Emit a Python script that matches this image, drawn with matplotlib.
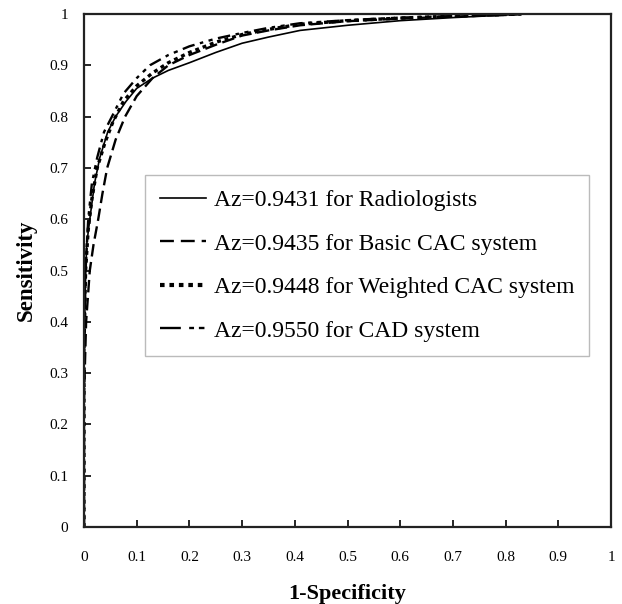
import matplotlib
matplotlib.use("Agg")
import matplotlib.pyplot as plt
from matplotlib.lines import Line2D

plt.rcParams['font.family'] = ['Liberation Serif', 'DejaVu Serif']
plt.rcParams['lines.scale_dashes'] = False

# ROC operating points (1-specificity, sensitivity)
fpr_rad = [0.0, 0.0, 0.002, 0.005, 0.011, 0.02, 0.03, 0.045, 0.06, 0.08, 0.10, 0.13, 0.16,
           0.20, 0.25, 0.30, 0.35, 0.41, 0.50, 0.60, 0.70, 0.80, 0.83]
tpr_rad = [0.0, 0.30, 0.45, 0.55, 0.60, 0.67, 0.72, 0.77, 0.80, 0.83, 0.855, 0.875, 0.89,
           0.905, 0.925, 0.943, 0.955, 0.968, 0.978, 0.987, 0.993, 0.998, 1.0]

fpr_basic = [0.0, 0.0, 0.004, 0.011, 0.018, 0.027, 0.035, 0.044, 0.06, 0.078, 0.10, 0.13, 0.16,
             0.20, 0.25, 0.30, 0.35, 0.41, 0.50, 0.60, 0.70, 0.80, 0.83]
tpr_basic = [0.0, 0.25, 0.40, 0.50, 0.55, 0.60, 0.65, 0.70, 0.755, 0.80, 0.84, 0.875, 0.90,
             0.92, 0.94, 0.958, 0.968, 0.978, 0.986, 0.991, 0.995, 0.998, 1.0]

fpr_wcac = [0.0, 0.0, 0.003, 0.008, 0.015, 0.025, 0.04, 0.055, 0.075, 0.10, 0.13, 0.16,
            0.20, 0.25, 0.30, 0.35, 0.41, 0.50, 0.60, 0.70, 0.80, 0.83]
tpr_wcac = [0.0, 0.35, 0.50, 0.58, 0.64, 0.70, 0.75, 0.79, 0.83, 0.86, 0.885, 0.905,
            0.925, 0.945, 0.960, 0.970, 0.980, 0.987, 0.992, 0.996, 0.999, 1.0]

fpr_cad = [0.0, 0.0, 0.003, 0.008, 0.015, 0.025, 0.038, 0.053, 0.075, 0.10, 0.125, 0.16,
           0.20, 0.25, 0.30, 0.35, 0.41, 0.50, 0.60, 0.70, 0.80, 0.83]
tpr_cad = [0.0, 0.30, 0.50, 0.60, 0.67, 0.72, 0.77, 0.80, 0.845, 0.875, 0.90, 0.92,
           0.937, 0.952, 0.963, 0.973, 0.982, 0.988, 0.993, 0.996, 0.999, 1.0]

labels = ["Az=0.9431 for Radiologists",
          "Az=0.9435 for Basic CAC system",
          "Az=0.9448 for Weighted CAC system",
          "Az=0.9550 for CAD system"]

W, H = 622, 604
fig = plt.figure(figsize=(W / 100, H / 100), dpi=100)
ax = fig.add_axes([84 / W, 1 - 527 / H, 527 / W, 513 / H])

ax.plot(fpr_rad, tpr_rad, color='black', lw=1.2, solid_joinstyle='round')
ax.plot(fpr_basic, tpr_basic, color='black', lw=1.7, linestyle=(0, (9, 4)))
ax.plot(fpr_wcac, tpr_wcac, color='black', lw=2.4, linestyle=(0, (2.8, 2.8)))
ax.plot(fpr_cad, tpr_cad, color='black', lw=1.7, linestyle=(0, (9, 4, 2.5, 4, 3, 4)))

ax.set_xlim(0, 1)
ax.set_ylim(0, 1)
ticks = [0, 0.1, 0.2, 0.3, 0.4, 0.5, 0.6, 0.7, 0.8, 0.9, 1]
ticklabels = ["0", "0.1", "0.2", "0.3", "0.4", "0.5", "0.6", "0.7", "0.8", "0.9", "1"]
ax.set_xticks(ticks)
ax.set_xticklabels(ticklabels)
ax.set_yticks(ticks)
ax.set_yticklabels(ticklabels)
ax.tick_params(direction='in', length=5, width=1.2, labelsize=11, colors='black')
ax.tick_params(axis='x', pad=17)
ax.tick_params(axis='y', pad=11.5)
for s in ax.spines.values():
    s.set_linewidth(1.6)
    s.set_color('#222222')

ax.set_xlabel("1-Specificity", fontsize=16, fontweight='bold', labelpad=15)
ax.set_ylabel("Sensitivity", fontsize=16.5, fontweight='bold', labelpad=9)

handles = [
    Line2D([], [], color='black', lw=1.2),
    Line2D([], [], color='black', lw=1.7, linestyle=(0, (10, 5))),
    Line2D([], [], color='black', lw=3.0, linestyle=(0, (3.3, 3.5))),
    Line2D([], [], color='black', lw=1.7, linestyle=(0, (15, 6, 3.5, 3.5, 4, 4))),
]
leg = fig.legend(handles, labels, loc='upper left', bbox_to_anchor=(145 / W, 1 - 175 / H),
                 bbox_transform=fig.transFigure, borderaxespad=0, fontsize=17,
                 handlelength=1.95, handletextpad=0.34, labelspacing=0.93,
                 borderpad=0.62, fancybox=False, frameon=True)
leg.get_frame().set_edgecolor('#aaaaaa')
leg.get_frame().set_linewidth(1.0)

fig.savefig("out.png", dpi=100)
